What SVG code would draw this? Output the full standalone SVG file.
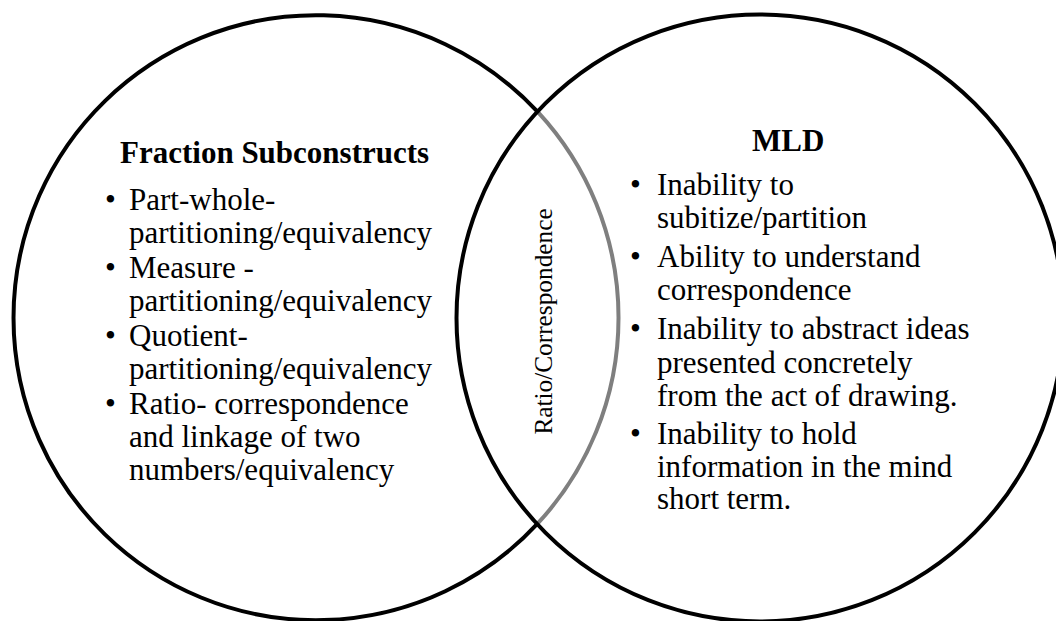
<svg xmlns="http://www.w3.org/2000/svg" width="1056" height="621" viewBox="0 0 1056 621">
<style>
.ring{fill:none;stroke:#000;stroke-width:4}
.lens{fill:none;stroke:#7f7f7f;stroke-width:4}
.t{font-family:"Liberation Serif","Times New Roman",serif;font-size:31px;fill:#000}
.h{font-family:"Liberation Serif","Times New Roman",serif;font-size:31px;font-weight:bold;fill:#000}
.v{font-family:"Liberation Serif","Times New Roman",serif;font-size:25.3px;fill:#000}
</style>
<rect width="1056" height="621" fill="#fff"/>
<g id="left-set">
<path class="ring" d="M 538 112.2 A 302.5 302.5 0 1 0 538 523.2"/>
<text class="h" x="120" y="163">Fraction Subconstructs</text>
<text class="t" x="105" y="210">•</text>
<text class="t" x="129" y="210">Part-whole-</text>
<text class="t" x="129" y="243">partitioning/equivalency</text>
<text class="t" x="105" y="278">•</text>
<text class="t" x="129" y="278">Measure -</text>
<text class="t" x="129" y="311">partitioning/equivalency</text>
<text class="t" x="105" y="346">•</text>
<text class="t" x="129" y="346">Quotient-</text>
<text class="t" x="129" y="379">partitioning/equivalency</text>
<text class="t" x="105" y="414">•</text>
<text class="t" x="129" y="414">Ratio- correspondence</text>
<text class="t" x="129" y="447">and linkage of two</text>
<text class="t" x="129" y="480">numbers/equivalency</text>
</g>
<g id="overlap">
<path class="lens" d="M 538 112.2 A 302.5 302.5 0 0 1 538 523.2"/>
<text class="v" transform="translate(552 321.5) rotate(-90)" text-anchor="middle">Ratio/Correspondence</text>
</g>
<g id="right-set">
<circle class="ring" cx="760" cy="318" r="303.5"/>
<text class="h" x="752" y="150.5">MLD</text>
<text class="t" x="630" y="195">•</text>
<text class="t" x="657" y="195">Inability to</text>
<text class="t" x="657" y="228">subitize/partition</text>
<text class="t" x="630" y="267">•</text>
<text class="t" x="657" y="267">Ability to understand</text>
<text class="t" x="657" y="299.5">correspondence</text>
<text class="t" x="630" y="339">•</text>
<text class="t" x="657" y="339">Inability to abstract ideas</text>
<text class="t" x="657" y="372.5">presented concretely</text>
<text class="t" x="657" y="405.5">from the act of drawing.</text>
<text class="t" x="630" y="444">•</text>
<text class="t" x="657" y="444">Inability to hold</text>
<text class="t" x="657" y="476.5">information in the mind</text>
<text class="t" x="657" y="508.5">short term.</text>
</g>
<g id="connectors"/>
</svg>
